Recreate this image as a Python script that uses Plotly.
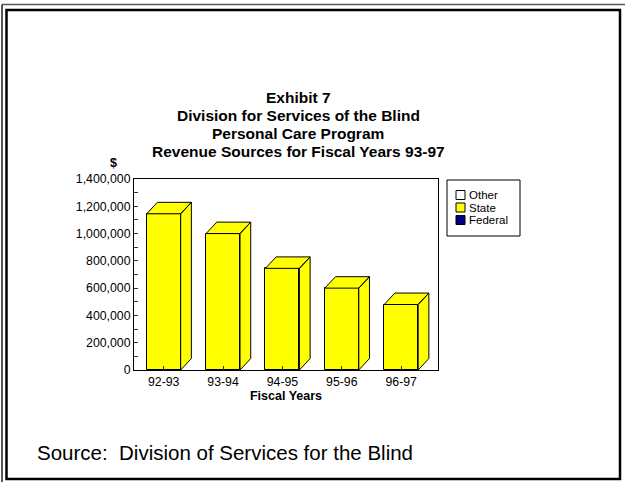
import plotly.graph_objects as go

# ---- data ----
categories = ["92-93", "93-94", "94-95", "95-96", "96-97"]
state_values = [1145000, 1000000, 745000, 600000, 480000]
legend_labels = ["Other", "State", "Federal"]
legend_colors = ["#FFFFFF", "#FFFF00", "#000080"]
title_lines = ["Exhibit 7", "Division for Services of the Blind",
               "Personal Care Program", "Revenue Sources for Fiscal Years 93-97"]
source_text = "Source:  Division of Services for the Blind"

W, H = 625, 482
L, R, T, B = 134, 438, 179, 370  # plot area in pixels


def px(x):
    return (x - L) / (R - L)


def py(y):
    return (B - y) / (B - T)


xs = list(range(len(categories)))
bw = 0.572            # front face width (category units)
dx = 0.18             # depth offset in x (category units)
dy = 84000            # depth offset in y (data units)

fig = go.Figure()
fig.add_trace(go.Bar(x=xs, y=state_values, width=bw, marker=dict(color="#FFFF00", line=dict(color="black", width=1)),
                     showlegend=False, hoverinfo="skip"))

# 3D top and side faces computed from the data
tx, ty = [], []
for i, v in zip(xs, state_values):
    l, r = i - bw / 2, i + bw / 2
    tx += [l, l + dx, r + dx, r, l, None]
    ty += [v, v + dy, v + dy, v, v, None]
    tx += [r, r + dx, r + dx, r, r, None]
    ty += [0, dy, v + dy, v, 0, None]
fig.add_trace(go.Scatter(x=tx, y=ty, mode="lines", fill="toself", fillcolor="#FFFF00",
                         line=dict(color="black", width=1), showlegend=False, hoverinfo="skip"))

font = "Arial, Liberation Sans, sans-serif"
shapes = []
annotations = []

# frame
shapes.append(dict(type="line", xref="paper", yref="paper", x0=px(2), x1=px(625), y0=py(4.5), y1=py(4.5),
                   line=dict(color="#555555", width=1.5)))
shapes.append(dict(type="line", xref="paper", yref="paper", x0=px(2), x1=px(2), y0=py(4.5), y1=py(482),
                   line=dict(color="#222222", width=1.5)))
shapes.append(dict(type="rect", xref="paper", yref="paper", x0=px(6.5), x1=px(620), y0=py(10), y1=py(479),
                   line=dict(color="black", width=2.5)))

# title
for k, t in enumerate(title_lines):
    annotations.append(dict(text="<b>%s</b>" % t, xref="paper", yref="paper", x=px(298), y=py(97 + 18 * k),
                            xanchor="center", yanchor="middle", showarrow=False,
                            font=dict(family=font, size=15.5, color="black")))
annotations.append(dict(text="<b>$</b>", xref="paper", yref="paper", x=px(113), y=py(163),
                        xanchor="center", yanchor="middle", showarrow=False,
                        font=dict(family=font, size=12.5, color="black")))
annotations.append(dict(text=source_text, xref="paper", yref="paper", x=px(35), y=py(452),
                        xanchor="left", yanchor="middle", showarrow=False,
                        font=dict(family=font, size=20.5, color="black")))

# legend (manual)
lx0, lx1, ly0, ly1 = 447, 520, 180, 236
shapes.append(dict(type="rect", xref="paper", yref="paper", x0=px(lx0), x1=px(lx1), y0=py(ly0), y1=py(ly1),
                   line=dict(color="black", width=1), fillcolor="white"))
for k, (lab, col) in enumerate(zip(legend_labels, legend_colors)):
    cy = 195 + 12.5 * k
    shapes.append(dict(type="rect", xref="paper", yref="paper", x0=px(456), x1=px(465), y0=py(cy - 4.5),
                       y1=py(cy + 4.5), line=dict(color="black", width=1), fillcolor=col))
    annotations.append(dict(text=lab, xref="paper", yref="paper", x=px(467), y=py(cy),
                            xanchor="left", yanchor="middle", showarrow=False,
                            font=dict(family=font, size=11.5, color="black")))

fig.update_layout(
    width=W, height=H, margin=dict(l=L, r=W - R, t=T, b=H - B),
    paper_bgcolor="white", plot_bgcolor="white", showlegend=False,
    font=dict(family=font, size=12, color="black"),
    shapes=shapes, annotations=annotations, bargap=0,
    xaxis=dict(range=[-0.5, 4.62], tickvals=xs, ticktext=categories, showline=True, linecolor="black",
               linewidth=1, mirror=True, ticks="inside", ticklen=4, tickcolor="#333333", showgrid=False,
               zeroline=False, title=dict(text="<b>Fiscal Years</b>", font=dict(size=12.5), standoff=0),
               tickfont=dict(size=12.3)),
    yaxis=dict(range=[0, 1400000], dtick=200000, tickformat=",d", showline=True, linecolor="black",
               linewidth=1, mirror=True, ticks="inside", ticklen=4, tickcolor="#333333", showgrid=False,
               zeroline=False, tickfont=dict(size=12.3),
               minor=dict(dtick=100000, ticks="inside", ticklen=4, tickcolor="#333333")),
)

fig.write_html("out.html")
